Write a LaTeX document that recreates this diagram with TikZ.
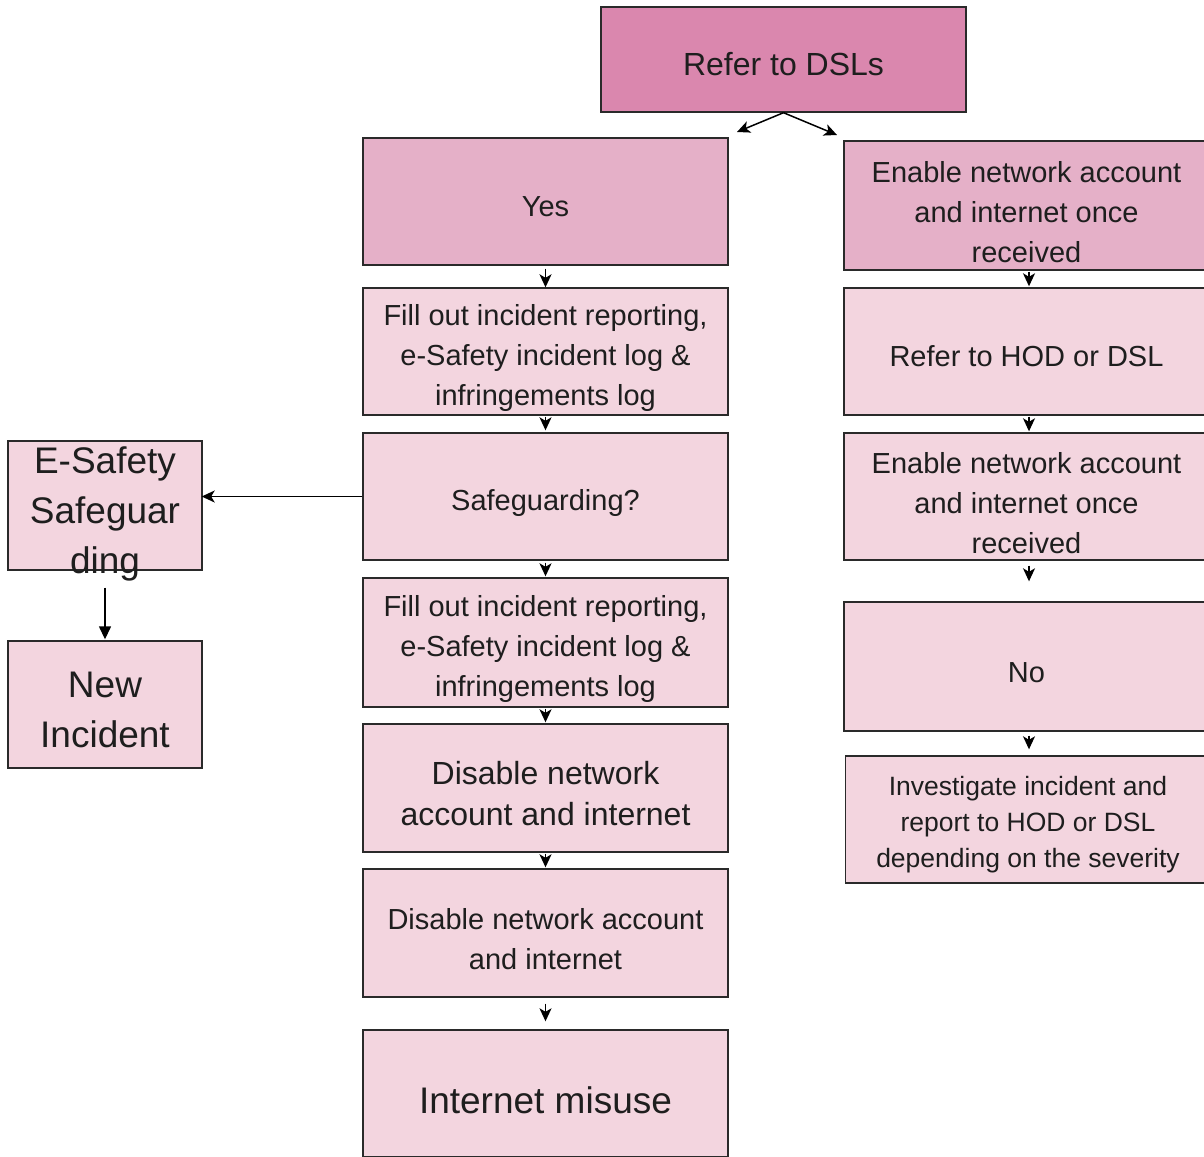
\documentclass[tikz,border=0pt]{standalone}
\usepackage{fontspec}
\setmainfont{Liberation Sans}
\usetikzlibrary{arrows.meta}
\definecolor{darkpink}{HTML}{DA87AE}
\definecolor{midpink}{HTML}{E5B0C8}
\definecolor{lightpink}{HTML}{F3D5DF}
\definecolor{edgegray}{HTML}{2A2A2A}
\definecolor{textgray}{HTML}{1E1E1E}
\tikzset{
  box/.style={draw=edgegray, line width=1.4pt, rectangle, inner sep=0pt,
    minimum width=365pt, minimum height=127pt, fill=lightpink},
  txt/.style={align=center, inner sep=0pt, text=textgray},
  fsmall/.style={font=\fontsize{26.5}{36}\selectfont},
  fmed/.style={font=\fontsize{29}{40}\selectfont},
  fbig/.style={font=\fontsize{32}{41}\selectfont},
  fhuge/.style={font=\fontsize{37}{50}\selectfont},
  arr/.style={draw=black, line width=1.5pt,
    -{Stealth[length=13pt,width=12pt,inset=3.5pt]}},
  arrtri/.style={draw=black, line width=1.4pt,
    -{Triangle[length=13pt,width=12pt]}},
}
\begin{document}
\begin{tikzpicture}[x=1pt,y=-1pt]
\path[use as bounding box] (0,0) rectangle (1204,1156);
\clip (0,0) rectangle (1204,1156);
\fill[white] (0,0) rectangle (1204,1156);

% boxes
\node[box, fill=darkpink, minimum height=105pt] (dsl) at (783.5,59.5) {};
\node[box, fill=midpink] (yes) at (545.5,201.5) {};
\node[box, fill=midpink, minimum height=129pt] (en1) at (1026.5,205.5) {};
\node[box] (fill1) at (545.5,351.5) {};
\node[box] (safe) at (545.5,496.5) {};
\node[box, minimum height=129pt] (fill2) at (545.5,642.5) {};
\node[box, minimum height=128pt] (dis1) at (545.5,788) {};
\node[box, minimum height=128pt] (dis2) at (545.5,933) {};
\node[box] (misuse) at (545.5,1093.5) {};
\node[box] (hod) at (1026.5,351.5) {};
\node[box] (en2) at (1026.5,496.5) {};
\node[box, minimum height=129pt] (no) at (1026.5,666.5) {};
\node[box] (inv) at (1028,819.5) {};
\node[box, minimum width=194pt, minimum height=129pt] (esafe) at (105,505.5) {};
\node[box, minimum width=194pt] (newinc) at (105,704.5) {};

% texts
\node[txt, fbig] (tdsl) at ([yshift=-4.5pt]dsl.center) {Refer to DSLs};
\node[txt, fmed] (tyes) at ([yshift=-5pt]yes.center) {Yes};
\node[txt, fmed] (ten1) at ([yshift=-6.5pt]en1.center) {Enable network account\\and internet once\\received};
\node[txt, fmed] (tfill1) at ([yshift=-6.5pt]fill1.center) {Fill out incident reporting,\\e-Safety incident log \&\\infringements log};
\node[txt, fmed] (tsafe) at ([yshift=-6pt]safe.center) {Safeguarding?};
\node[txt, fmed] (tfill2) at ([yshift=-6.5pt]fill2.center) {Fill out incident reporting,\\e-Safety incident log \&\\infringements log};
\node[txt, fbig] (tdis1) at ([yshift=-5.5pt]dis1.center) {Disable network\\account and internet};
\node[txt, fmed] (tdis2) at ([yshift=-6pt]dis2.center) {Disable network account\\and internet};
\node[txt, fhuge] (tmisuse) at ([yshift=-7pt]misuse.center) {Internet misuse};
\node[txt, fmed] (thod) at ([yshift=-5pt]hod.center) {Refer to HOD or DSL};
\node[txt, fmed] (ten2) at ([yshift=-6.5pt]en2.center) {Enable network account\\and internet once\\received};
\node[txt, fmed] (tno) at ([yshift=-6pt]no.center) {No};
\node[txt, fsmall] (tinv) at ([yshift=-5pt]inv.center) {Investigate incident and\\report to HOD or DSL\\depending on the severity};
\node[txt, fhuge] (tesafe) at ([yshift=-8.5pt]esafe.center) {E-Safety\\Safeguar\\ding};
\node[txt, fhuge] (tnew) at ([yshift=-5.5pt]newinc.center) {New\\Incident};

% connectors
\coordinate (yesin) at (737,132);
\coordinate (enin) at (837,135);
\draw[arr] (dsl.south) -- (yesin);
\draw[arr] (dsl.south) -- (enin);

\draw[arr] (safe.west) -- ([xshift=-1pt]safe.west -| esafe.east);
\draw[arrtri, shorten <=17pt, shorten >=1pt] (esafe.south) -- (newinc.north);

\draw[arr, shorten <=3pt] (yes.south) -- (fill1.north);
\draw[arr, shorten <=1pt, shorten >=2pt] (fill1.south) -- (safe.north);
\draw[arr, shorten <=2pt, shorten >=1pt] (safe.south) -- (fill2.north);
\draw[arr, shorten <=1pt, shorten >=1pt] (fill2.south) -- (dis1.north);
\draw[arr, shorten <=1pt, shorten >=1pt] (dis1.south) -- (dis2.north);
\draw[arr, shorten <=6pt, shorten >=8pt] (dis2.south) -- (misuse.north);

\draw[arr, shorten <=1pt, shorten >=1pt] ([xshift=2.5pt]en1.south) -- ([xshift=2.5pt]hod.north);
\draw[arr, shorten <=1pt, shorten >=1pt] ([xshift=2.5pt]hod.south) -- ([xshift=2.5pt]en2.north);
\draw[arr, shorten <=5pt, shorten >=20pt] ([xshift=2.5pt]en2.south) -- ([xshift=2.5pt]no.north);
\draw[arr, shorten <=4pt, shorten >=6pt] ([xshift=2.5pt]no.south) -- ([xshift=1pt]inv.north);
\end{tikzpicture}
\end{document}
